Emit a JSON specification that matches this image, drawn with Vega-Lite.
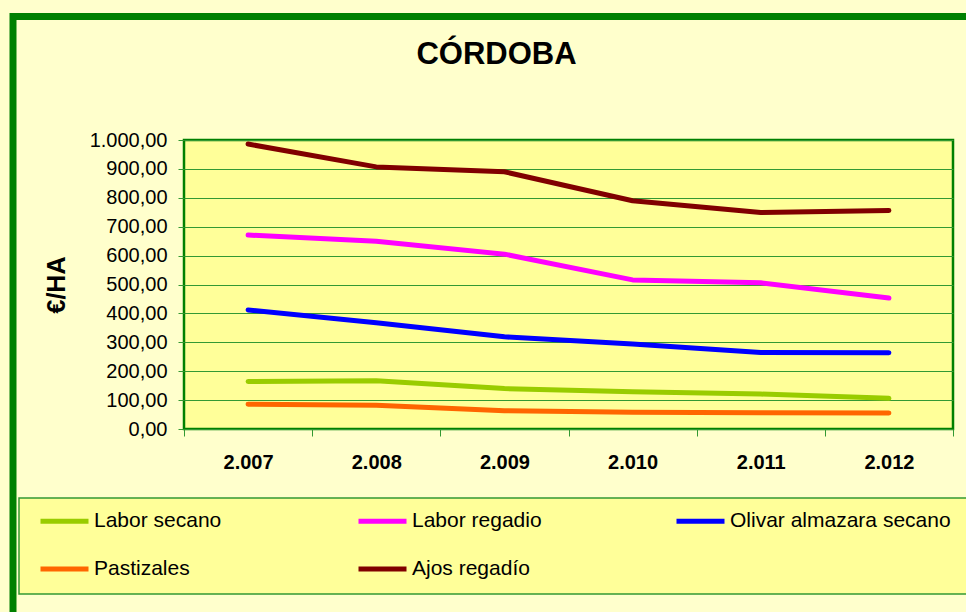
{
  "$schema": "https://vega.github.io/schema/vega-lite/v6.json",
  "autosize": {"type": "none"},
  "width": 769,
  "height": 289,
  "padding": {"left": 184, "top": 140, "right": 13, "bottom": 183},
  "background": "#FFFFCC",
  "title": {
    "text": "CÓRDOBA",
    "font": "Liberation Sans",
    "fontSize": 31,
    "fontWeight": "bold",
    "color": "#000000",
    "frame": "group",
    "anchor": "middle",
    "dx": -72,
    "baseline": "alphabetic",
    "offset": -78
  },
  "config": {
    "view": {"fill": "#FFFF99", "stroke": "#008000", "strokeWidth": 2.5}
  },
  "data": {
    "values": [
      {"year": 2007, "serie": "Labor secano", "value": 164},
      {"year": 2008, "serie": "Labor secano", "value": 167},
      {"year": 2009, "serie": "Labor secano", "value": 140},
      {"year": 2010, "serie": "Labor secano", "value": 129},
      {"year": 2011, "serie": "Labor secano", "value": 121},
      {"year": 2012, "serie": "Labor secano", "value": 106},
      {"year": 2007, "serie": "Labor regadio", "value": 671},
      {"year": 2008, "serie": "Labor regadio", "value": 650},
      {"year": 2009, "serie": "Labor regadio", "value": 605},
      {"year": 2010, "serie": "Labor regadio", "value": 516},
      {"year": 2011, "serie": "Labor regadio", "value": 506},
      {"year": 2012, "serie": "Labor regadio", "value": 453},
      {"year": 2007, "serie": "Olivar almazara secano", "value": 412},
      {"year": 2008, "serie": "Olivar almazara secano", "value": 368},
      {"year": 2009, "serie": "Olivar almazara secano", "value": 319},
      {"year": 2010, "serie": "Olivar almazara secano", "value": 294},
      {"year": 2011, "serie": "Olivar almazara secano", "value": 265},
      {"year": 2012, "serie": "Olivar almazara secano", "value": 264},
      {"year": 2007, "serie": "Pastizales", "value": 86},
      {"year": 2008, "serie": "Pastizales", "value": 82},
      {"year": 2009, "serie": "Pastizales", "value": 63},
      {"year": 2010, "serie": "Pastizales", "value": 58},
      {"year": 2011, "serie": "Pastizales", "value": 56},
      {"year": 2012, "serie": "Pastizales", "value": 55},
      {"year": 2007, "serie": "Ajos regadío", "value": 986},
      {"year": 2008, "serie": "Ajos regadío", "value": 907},
      {"year": 2009, "serie": "Ajos regadío", "value": 890},
      {"year": 2010, "serie": "Ajos regadío", "value": 790},
      {"year": 2011, "serie": "Ajos regadío", "value": 749},
      {"year": 2012, "serie": "Ajos regadío", "value": 756}
    ]
  },
  "encoding": {
    "x": {
      "field": "year",
      "type": "ordinal",
      "bandPosition": 0.5,
      "scale": {"type": "band", "paddingInner": 0, "paddingOuter": 0},
      "axis": {
        "title": null,
        "domain": false,
        "grid": false,
        "tickBand": "extent",
        "tickColor": "#339933",
        "tickSize": 7,
        "tickWidth": 1,
        "labelAngle": 0,
        "labelFont": "Liberation Sans",
        "labelFontSize": 20,
        "labelFontWeight": "bold",
        "labelColor": "#000000",
        "labelBaseline": "alphabetic",
        "labelPadding": 32,
        "labelExpr": "isValid(datum.value) && isFinite(datum.value) ? replace(format(datum.value, ','), ',', '.') : ''"
      }
    },
    "y": {
      "field": "value",
      "type": "quantitative",
      "scale": {"domain": [0, 1000], "nice": false},
      "axis": {
        "values": [0, 100, 200, 300, 400, 500, 600, 700, 800, 900, 1000],
        "domain": false,
        "grid": true,
        "gridColor": "#339933",
        "gridWidth": 1,
        "gridOpacity": 1,
        "tickColor": "#339933",
        "tickSize": 6,
        "tickWidth": 1,
        "labelFont": "Liberation Sans",
        "labelFontSize": 20,
        "labelColor": "#000000",
        "labelPadding": 11,
        "labelExpr": "replace(replace(replace(format(datum.value, ',.2f'), ',', 'X'), '.', ','), 'X', '.')",
        "title": "€/HA",
        "titleFont": "Liberation Sans",
        "titleFontSize": 25,
        "titleFontWeight": "bold",
        "titleColor": "#000000",
        "titleAngle": 270,
        "titleAlign": "center",
        "titleBaseline": "alphabetic",
        "titleX": -120,
        "titleY": 144.5
      }
    }
  },
  "layer": [
    {
      "mark": {"type": "point", "opacity": 0},
      "encoding": {
        "fill": {
          "field": "value",
          "type": "quantitative",
          "scale": {"range": ["rgba(0,0,0,0)", "rgba(0,0,0,0)"]},
          "legend": {
            "orient": "none",
            "legendX": -171,
            "legendY": -123.5,
            "direction": "horizontal",
            "title": null,
            "padding": 0,
            "zindex": 0,
            "gradientLength": 1000,
            "gradientThickness": 700,
            "gradientStrokeColor": "#008000",
            "gradientStrokeWidth": 7,
            "labelOpacity": 0,
            "labelExpr": "''"
          }
        }
      }
    },
    {
      "mark": {"type": "point", "opacity": 0},
      "encoding": {
        "stroke": {
          "field": "year",
          "type": "quantitative",
          "scale": {"range": ["#FFFF99", "#FFFF99"]},
          "legend": {
            "orient": "none",
            "legendX": -165,
            "legendY": 358,
            "direction": "horizontal",
            "title": null,
            "padding": 0,
            "zindex": 0,
            "gradientLength": 1000,
            "gradientThickness": 96,
            "gradientStrokeColor": "#339933",
            "gradientStrokeWidth": 1.5,
            "labelOpacity": 0,
            "labelExpr": "''"
          }
        }
      }
    },
    {
      "mark": {"type": "line", "strokeWidth": 5, "strokeCap": "round", "strokeJoin": "round"},
      "encoding": {
        "color": {
          "field": "serie",
          "type": "nominal",
          "scale": {
            "domain": ["Labor secano", "Labor regadio", "Olivar almazara secano", "Pastizales", "Ajos regadío"],
            "range": ["#99CC00", "#FF00FF", "#0000FF", "#FF6600", "#800000"]
          },
          "legend": {
            "orient": "none",
            "legendX": -146,
            "legendY": 354.5,
            "direction": "horizontal",
            "columns": 3,
            "gridAlign": "all",
            "title": null,
            "zindex": 2,
            "symbolType": "stroke",
            "symbolSize": 2304,
            "symbolStrokeWidth": 5,
            "labelFont": "Liberation Sans",
            "labelFontSize": 21,
            "labelColor": "#000000",
            "labelOffset": 3,
            "labelLimit": 0,
            "columnPadding": 33,
            "rowPadding": 11,
            "padding": 0
          }
        }
      }
    }
  ]
}
